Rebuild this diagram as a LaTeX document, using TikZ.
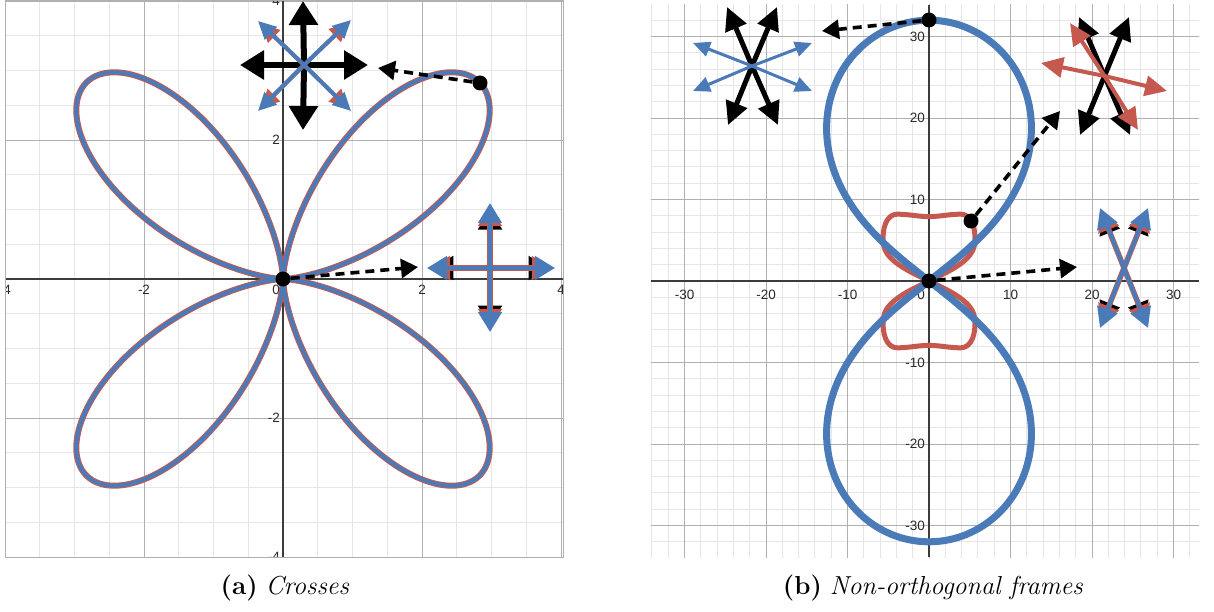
\documentclass[tikz,border=0pt]{standalone}
\usepackage{fontspec}
\newfontfamily\axisfont{Liberation Sans}
\usetikzlibrary{arrows.meta}
\definecolor{myblue}{HTML}{4A7AB8}
\definecolor{myred}{HTML}{C5594F}
\definecolor{gridminor}{HTML}{E6E6E6}
\definecolor{gridmajor}{HTML}{B0B0B0}
\definecolor{axiscol}{HTML}{3C3C3C}
\definecolor{labelcol}{HTML}{2A2A2A}
\tikzset{
  minorgrid/.style={draw=gridminor, line width=0.9pt},
  majorgrid/.style={draw=gridmajor, line width=0.9pt},
  axisline/.style={draw=axiscol, line width=1.3pt},
  ticklabel/.style={font=\axisfont\fontsize{13.5}{14}\selectfont, text=labelcol, inner sep=1pt},
  dot/.style={circle, fill=black, inner sep=0pt, minimum size=15pt},
  dasharrow/.style={line width=3.6pt, dash pattern=on 9pt off 6pt, -{Triangle[length=17pt,width=19pt]}},
  bigblk/.style={line width=6pt, black, -{Triangle[length=24pt,width=28pt]}},
  thinblue/.style={line width=4pt, myblue, -{Triangle[length=18pt,width=17pt]}},
  thinred/.style={line width=4pt, myred, -{Triangle[length=18pt,width=17pt]}},
  crossblk/.style={line width=5pt, black, -{Triangle[length=20pt,width=23pt]}},
  crossred/.style={line width=6.5pt, myred, -{Triangle[length=20pt,width=23pt]}},
  crossblue/.style={line width=4.5pt, myblue, -{Triangle[length=20pt,width=23pt]}},
  rblk/.style={line width=5pt, black, -{Triangle[length=23pt,width=22pt]}},
  rblue/.style={line width=3pt, myblue, -{Triangle[length=17pt,width=15pt]}},
  rred/.style={line width=4pt, myred, -{Triangle[length=22pt,width=20pt]}},
  captionfont/.style={font=\fontsize{26}{30}\selectfont, inner sep=0pt},
}
\begin{document}
\begin{tikzpicture}[x=1pt, y=-1pt, line cap=butt]
\useasboundingbox (0,0) rectangle (1214,612);
\fill[white] (0,0) rectangle (1214,612);

% ================= LEFT PANEL =================
\begin{scope}[xshift=283pt, yshift=-279pt, x=69.5pt, y=69.5pt]
  \begin{scope}
    \clip (-4,-4) rectangle (4.03,4);
    \draw[minorgrid] (-4,-4) grid[step=0.5] (4.03,4);
    \draw[majorgrid] (-4,-4) grid[step=2] (4.03,4);
    \draw[axisline] (-4,0) -- (4.03,0);
    \draw[axisline] (0,-4) -- (0,4);
    \foreach \v/\n in {-4/lxa,-2/lxb,2/lxc,4/lxd}
      \node[ticklabel, anchor=north, yshift=-5pt] (\n) at (\v,0) {\v};
    \foreach \v/\n in {-4/lya,-2/lyb,2/lyc,4/lyd}
      \node[ticklabel, anchor=east, xshift=-2pt] (\n) at (0,\v) {\v};
    \node[ticklabel, anchor=north east, xshift=-2pt, yshift=-5pt] (lzero) at (0,0) {0};
    % rose curve r = 4 sin^2(2t)
    \draw[line width=6pt, myred, line join=round]
      plot[domain=0:360, samples=481, smooth, variable=\t]
      ({4*sin(2*\t)^2*cos(\t)},{4*sin(2*\t)^2*sin(\t)});
    \draw[line width=4pt, myblue, line join=round]
      plot[domain=0:360, samples=481, smooth, variable=\t]
      ({4*sin(2*\t)^2*cos(\t)},{4*sin(2*\t)^2*sin(\t)});
  \end{scope}
  \draw[gridmajor, line width=1pt] (-4,-4) rectangle (4.03,4);
\end{scope}

% top glyph of left panel
\coordinate (ga) at (304,65);
\draw[bigblk] (ga) -- ++(-1,-64);
\draw[bigblk] (ga) -- ++(-1,65);
\draw[bigblk] (ga) -- ++(-64,0);
\draw[bigblk] (ga) -- ++(64,0);
\foreach \dx/\dy in {-46/-44,47/-45,-46/46,47/46}{
  \draw[thinred] (ga) -- ++({\dx*0.93},{\dy*0.93});
  \draw[thinblue] (ga) -- ++(\dx,\dy);
}

% cross glyph of left panel
\coordinate (gb) at (490,268);
\foreach \dx/\dy in {-63/0,65/0,0/-65,0/64}{
  \draw[crossblk] (gb) -- ++({\dx*0.9},{\dy*0.9});
}
\foreach \dx/\dy in {-63/0,65/0,0/-65,0/64}{
  \draw[crossred] (gb) -- ++({\dx*0.95},{\dy*0.95});
}
\foreach \dx/\dy in {-63/0,65/0,0/-65,0/64}{
  \draw[crossblue] (gb) -- ++(\dx,\dy);
}

% dots and dashed arrows, left panel
\node[dot] (la) at (283,279) {};
\node[dot] (lb) at (480,83) {};
\coordinate (lta) at (418,267);
\coordinate (ltb) at (378,68);
\draw[dasharrow] (la) -- (lta);
\draw[dasharrow] (lb) -- (ltb);

% ================= RIGHT PANEL =================
\begin{scope}[xshift=929pt, yshift=-281pt, x=8.15pt, y=8.15pt]
  \begin{scope}
    \clip (-34.1,-33.87) rectangle (33.13,33.87);
    \draw[minorgrid] (-36,-36) grid[step=2] (36,36);
    \draw[majorgrid] (-36,-36) grid[step=10] (36,36);
    \draw[axisline] (-34.1,0) -- (33.13,0);
    \draw[axisline] (0,-33.87) -- (0,33.87);
    \foreach \v/\n in {-30/rxa,-20/rxb,-10/rxc,10/rxd,20/rxe,30/rxf}
      \node[ticklabel, anchor=north, yshift=-8pt] (\n) at (\v,0) {\v};
    \foreach \v/\n in {-30/rya,-20/ryb,-10/ryc,10/ryd,20/rye,30/ryf}
      \node[ticklabel, anchor=east, xshift=-3pt] (\n) at (0,\v) {\v};
    \node[ticklabel, anchor=north east, xshift=-3pt, yshift=-8pt] (rzero) at (0,0) {0};
    % red loops
    \foreach \s in {1,-1}{
      \begin{scope}[yscale=\s]
        \draw[line width=5pt, myred, line join=round]
          (0,0) .. controls (2.5,1.2) and (5.4,2.5) .. (5.6,4.6)
          .. controls (5.8,6.5) and (5.2,8.2) .. (3.9,8.2)
          .. controls (2.5,8.2) and (1.3,7.9) .. (0,7.9)
          .. controls (-1.3,7.9) and (-2.5,8.2) .. (-3.9,8.2)
          .. controls (-5.2,8.2) and (-5.8,6.5) .. (-5.6,4.6)
          .. controls (-5.4,2.5) and (-2.5,1.2) .. (0,0);
      \end{scope}
    }
    % blue ovals
    \foreach \s in {1,-1}{
      \draw[line width=7pt, myblue, line join=round]
        plot[domain=37:143, samples=241, variable=\t]
        ({0.96*32*sqrt(max(0,sin(90*(1-abs(\t-90)/53))))*cos(\t)},
         {\s*32*sqrt(max(0,sin(90*(1-abs(\t-90)/53))))*sin(\t)});
    }
  \end{scope}
\end{scope}

% glyph A (top left of right panel)
\coordinate (gc) at (752,66);
\foreach \dx/\dy in {-25/-59,25/-59,-24/59,26/59}
  \draw[rblk] (gc) -- ++(\dx,\dy);
\foreach \dx/\dy in {-59/-23,60/-23,-59/25,60/25}
  \draw[rblue] (gc) -- ++(\dx,\dy);

% glyph B (top right of right panel)
\coordinate (gd) at (1104.5,76);
\foreach \dx/\dy in {-25.5/-59,24.5/-59,-24.5/59,25.5/59}
  \draw[rblk] (gd) -- ++(\dx,\dy);
\draw[rred] (gd) -- ++(-34.5,-53);
\draw[rred] (gd) -- ++(33.5,54);
\draw[rred] (gd) -- ++(-63.5,-13);
\draw[rred] (gd) -- ++(62.5,15);

% glyph C (right of origin, right panel)
\coordinate (ge) at (1124,268);
\foreach \dx/\dy in {-24/-60,24/-60,-24/60,24/60}
  \draw[crossblk, line width=4pt, -{Triangle[length=20pt,width=21pt]}] (ge) -- ++({\dx*0.9},{\dy*0.9});
\foreach \dx/\dy in {-24/-60,24/-60,-24/60,24/60}
  \draw[crossred, line width=5.5pt, -{Triangle[length=20pt,width=21pt]}] (ge) -- ++({\dx*0.95},{\dy*0.95});
\foreach \dx/\dy in {-24/-60,24/-60,-24/60,24/60}
  \draw[crossblue, line width=4pt, -{Triangle[length=20pt,width=21pt]}] (ge) -- ++(\dx,\dy);

% dots and dashed arrows, right panel
\node[dot] (ra) at (929,20) {};
\node[dot] (rb) at (971,221) {};
\node[dot] (rc) at (929,281) {};
\coordinate (rta) at (822,31);
\coordinate (rtb) at (1060,111);
\coordinate (rtc) at (1077,267);
\draw[dasharrow] (ra) -- (rta);
\draw[dasharrow] (rb) -- (rtb);
\draw[dasharrow] (rc) -- (rtc);

% captions
\node[captionfont] (capa) at (285,588) {\textbf{(a)} \textit{Crosses}};
\node[captionfont] (capb) at (933,588) {\textbf{(b)} \textit{Non-orthogonal frames}};
\end{tikzpicture}
\end{document}
